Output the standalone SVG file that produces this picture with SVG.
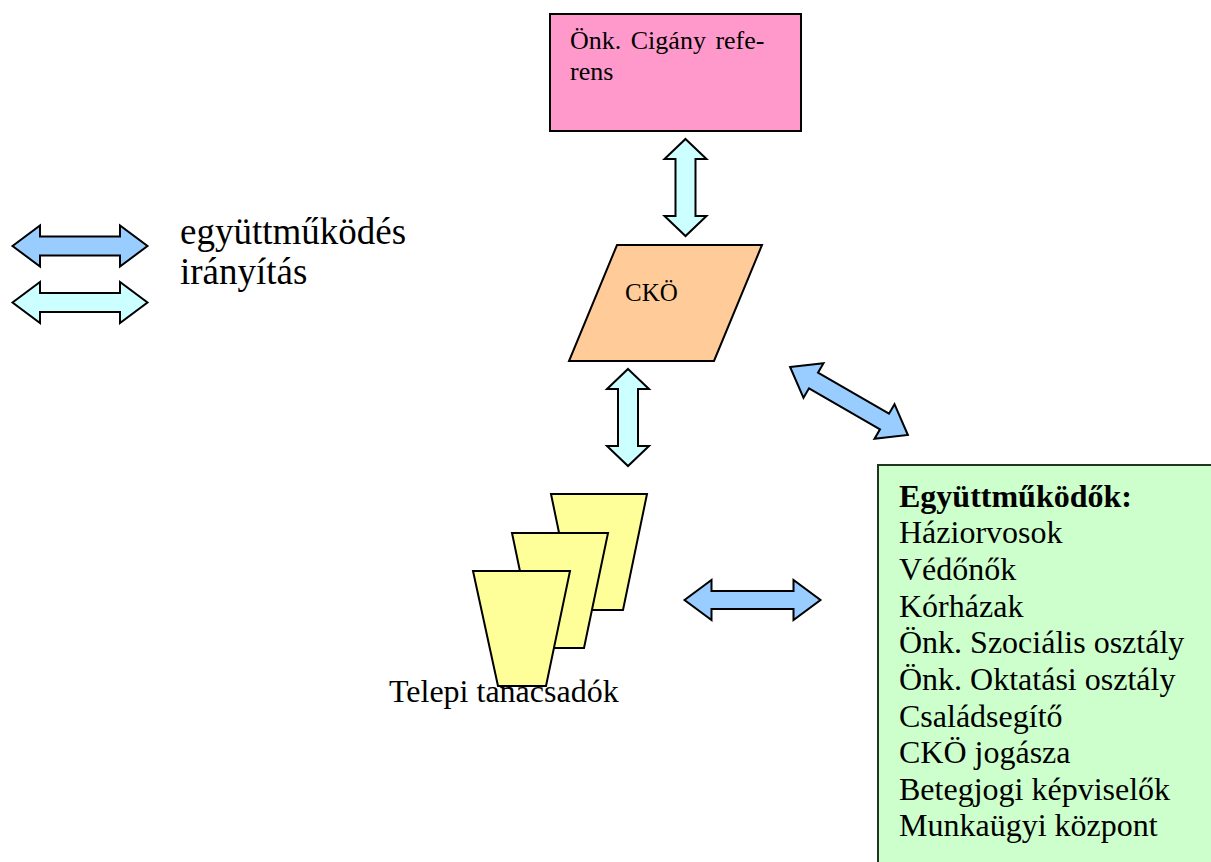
<svg xmlns="http://www.w3.org/2000/svg" width="1211" height="862" viewBox="0 0 1211 862">
<style>
.s{stroke:#000;stroke-width:2;stroke-linejoin:miter}
.t{font-family:"Liberation Serif","Times New Roman",serif;fill:#000}
.blue{fill:#99CCFF}
.cyan{fill:#CCFFFF}
</style>
<defs>
<path id="harrow" d="M -67.5 0 L -40 -20.5 L -40 -9.5 L 40 -9.5 L 40 -20.5 L 67.5 0 L 40 20.5 L 40 9.5 L -40 9.5 L -40 20.5 Z"/>
<path id="darrow" d="M -68 0 L -41 -20 L -41 -9 L 41 -9 L 41 -20 L 68 0 L 41 20 L 41 9 L -41 9 L -41 20 Z"/>
<path id="varrow" d="M 0 -48.5 L 21 -28.5 L 10 -28.5 L 10 28.5 L 21 28.5 L 0 48.5 L -21 28.5 L -10 28.5 L -10 -28.5 L -21 -28.5 Z"/>
</defs>
<rect width="1211" height="862" fill="#fff"/>

<g id="legend">
<use href="#harrow" class="s blue" transform="translate(80,246)"/>
<use href="#harrow" class="s cyan" transform="translate(80,302.5)"/>
<text class="t" x="180" y="244" font-size="37">együttműködés</text>
<text class="t" x="180" y="284" font-size="37">irányítás</text>
</g>

<g id="referens">
<rect x="550" y="14" width="251" height="117" fill="#FF99CC" class="s"/>
<text class="t" x="570" y="49" font-size="26" word-spacing="3">Önk. Cigány refe-</text>
<text class="t" x="570" y="80" font-size="26">rens</text>
</g>

<g id="cko">
<polygon points="617,245 762,245 714,361 569,361" fill="#FFCC99" class="s"/>
<text class="t" x="625" y="301" font-size="25">CKÖ</text>
</g>

<g id="tanacsadok">
<polygon points="551,494 647,494 623,610 575,610" fill="#FFFF99" class="s"/>
<polygon points="512,533 608,533 584,648 536,648" fill="#FFFF99" class="s"/>
<polygon points="473,571 570,571 546,686 498,686" fill="#FFFF99" class="s"/>
<text class="t" x="389" y="702" font-size="32">Telepi tanacsadók</text>
</g>

<g id="egyuttmukodok">
<rect x="878" y="465" width="345" height="410" fill="#CCFFCC" stroke="#223322" stroke-width="2"/>
<g class="t" font-size="32">
<text x="899" y="507" font-weight="bold">Együttműködők:</text>
<text x="899" y="543">Háziorvosok</text>
<text x="899" y="580">Védőnők</text>
<text x="899" y="617">Kórházak</text>
<text x="899" y="653">Önk. Szociális osztály</text>
<text x="899" y="690">Önk. Oktatási osztály</text>
<text x="899" y="727">Családsegítő</text>
<text x="899" y="763">CKÖ jogásza</text>
<text x="899" y="800">Betegjogi képviselők</text>
<text x="899" y="836">Munkaügyi központ</text>
</g>
</g>

<g id="connectors">
<use href="#varrow" class="s cyan" transform="translate(685.5,187.5)"/>
<use href="#varrow" class="s cyan" transform="translate(628,417.5)"/>
<use href="#darrow" class="s blue" transform="translate(849,401) rotate(30)"/>
<use href="#darrow" class="s blue" transform="translate(752.5,600)"/>
</g>
</svg>
